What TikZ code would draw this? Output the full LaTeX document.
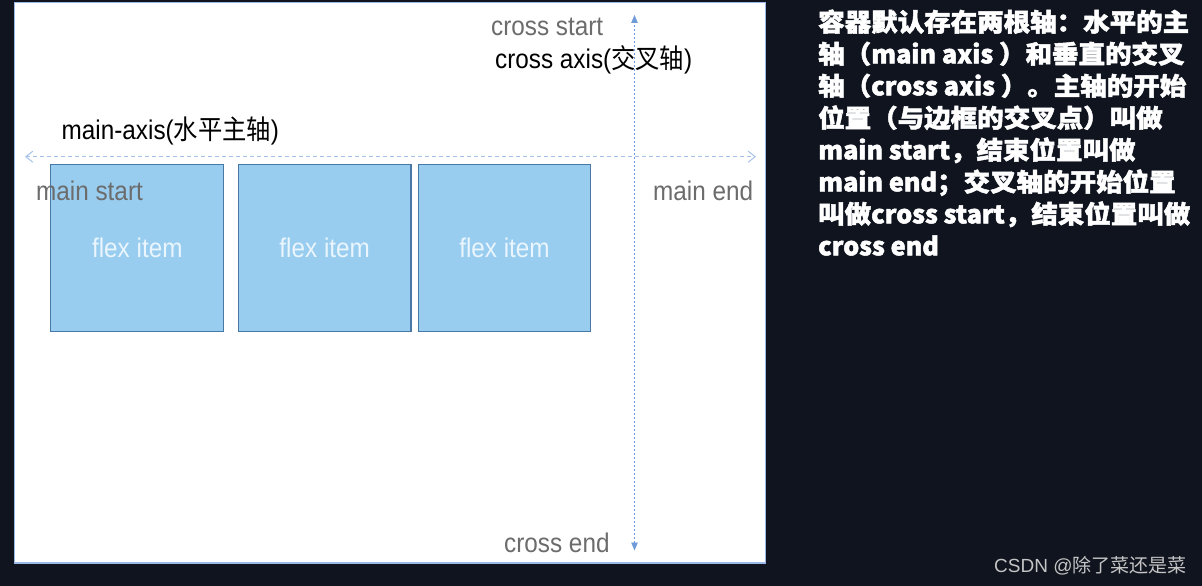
\documentclass[tikz,border=0pt]{standalone}
\usepackage{fontspec}
\usetikzlibrary{arrows.meta}
\setmainfont{Liberation Sans}[FakeStretch=0.9]
\newfontfamily\cjk{Noto Sans CJK SC}[FakeStretch=0.9]
\newfontfamily\cjkwide{Noto Sans CJK SC}[FakeStretch=1.06,FakeBold=2]
\newfontfamily\desclatin{Noto Sans CJK SC}[FakeStretch=1.01,FakeBold=2]
\newfontfamily\cjkplain{Noto Sans CJK SC}
\newfontfamily\latinplain{Liberation Sans}
\newcommand{\dl}[1]{{\desclatin\bfseries #1}}
\definecolor{bgdark}{HTML}{10141F}
\definecolor{panelborder}{HTML}{9BB8E6}
\definecolor{boxfill}{HTML}{98CDF0}
\definecolor{boxedge}{HTML}{4A78A6}
\definecolor{flextext}{HTML}{EAF5FD}
\definecolor{labelgray}{HTML}{6C6C6C}
\definecolor{mainaxiscol}{HTML}{A6C2E8}
\definecolor{crossaxiscol}{HTML}{6F9BD8}
\definecolor{wmgray}{HTML}{C4C4C4}
\begin{document}
\begin{tikzpicture}[x=1pt,y=-1pt,
  lbl/.style={inner sep=0pt, anchor=base west, font=\fontsize{27}{32}\selectfont},
  graylbl/.style={lbl, text=labelgray},
  blacklbl/.style={lbl, text=black},
  flexbox/.style={draw=boxedge, fill=boxfill, line width=1.3pt, minimum width=173pt,
    minimum height=167.5pt, inner sep=0pt, text=flextext, font=\fontsize{27}{32}\selectfont},
  mainaxis/.style={draw=mainaxiscol, line width=1pt, dash pattern=on 4pt off 3pt,
    {Straight Barb[length=7pt,width=11pt]}-{Straight Barb[length=7pt,width=11pt]}},
  crossaxis/.style={draw=crossaxiscol, line width=0.9pt, dash pattern=on 2pt off 2pt,
    {Triangle[length=8pt,width=6.5pt]}-{Triangle[length=8pt,width=6.5pt]}},
  desc/.style={inner sep=0pt, anchor=base west, text=white,
    font=\cjkwide\bfseries\fontsize{25}{32}\selectfont}
]
% background and canvas
\useasboundingbox (0,0) rectangle (1202,586);
\fill[bgdark] (0,0) rectangle (1202,586);
\draw[panelborder, line width=1.5pt, fill=white] (14.5,2.5) rectangle (765.5,563);

% flex items
\node[flexbox] (item1) at (137.3,248) {flex item};
\node[flexbox, minimum width=172.7pt] (item2) at (324.7,248) {flex item};
\node[flexbox, minimum width=172.4pt] (item3) at (504.5,248) {flex item};

% axes
\coordinate (mainstart) at (25,156.7);
\coordinate (mainend) at (756,156.7);
\draw[mainaxis] (mainstart) -- (mainend);
\coordinate (crossstart) at (634.5,15);
\coordinate (crossend) at (634.5,550.5);
\draw[crossaxis] (crossend) -- (crossstart);

% labels
\node[graylbl] (lcs) at (491,36) {cross start};
\node[blacklbl] (lca) at (495,68.3) {cross axis({\cjk 交叉轴})};
\node[blacklbl] (lma) at (61.5,139) {main-axis({\cjk 水平主轴})};
\node[graylbl] (lms) at (36,200.7) {main start};
\node[graylbl] (lme) at (653,200.7) {main end};
\node[graylbl] (lce) at (504,552) {cross end};

% description
\node[desc] (d1) at (818,31.3) {容器默认存在两根轴：水平的主};
\node[desc] (d2) at (818,63.3) {轴（\dl{main axis }）和垂直的交叉};
\node[desc] (d3) at (818,95.3) {轴（\dl{cross axis }）。主轴的开始};
\node[desc] (d4) at (818,127.3) {位置（与边框的交叉点）叫做};
\node[desc] (d5) at (818,159.3) {\dl{main start}，结束位置叫做};
\node[desc] (d6) at (818,191.3) {\dl{main end}；交叉轴的开始位置};
\node[desc] (d7) at (818,223.3) {叫做\dl{cross start}，结束位置叫做};
\node[desc] (d8) at (818,255.3) {\dl{cross end}};

% watermark
\node[inner sep=0pt, anchor=base west, text=wmgray, font=\latinplain\fontsize{19}{22}\selectfont]
  (wm) at (994,572.7) {CSDN @{\cjkplain 除了菜还是菜}};
\end{tikzpicture}
\end{document}
